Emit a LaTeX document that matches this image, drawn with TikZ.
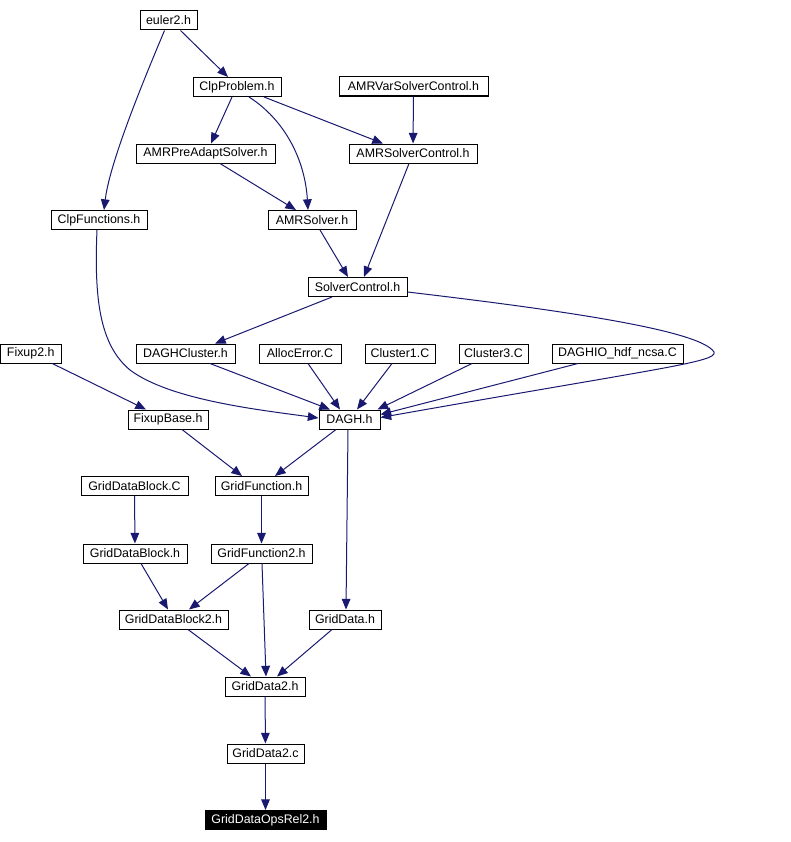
\documentclass[tikz,border=0pt]{standalone}
\usepackage{fontspec}
\setmainfont{Liberation Sans}
\usetikzlibrary{arrows.meta,calc}
\definecolor{DGEdge}{HTML}{191970}
\definecolor{DGBox}{HTML}{000000}
\tikzset{
  file/.style={draw=DGBox,line width=0.75pt,inner sep=0pt,minimum height=14.25pt,font=\fontsize{9.3}{10}\selectfont},
  focus/.style={file,fill=black,text=white},
  dep/.style={DGEdge,line width=0.75pt,-{Triangle[length=8pt,width=6.5pt]}}
}
\begin{document}
\begin{tikzpicture}[x=0.75pt,y=-0.75pt]
\path[use as bounding box] (0,0) rectangle (790,842);
% headers on top
\node[file,minimum width=42.75pt] (euler2) at (168.5,20.5) {euler2.h};
\node[file,minimum width=66pt] (ClpProblem) at (237,87) {ClpProblem.h};
\node[file,minimum width=111.75pt] (AMRVarSolverControl) at (413.5,86.5) {AMRVarSolverControl.h};
\node[file,minimum width=104.25pt] (AMRPreAdaptSolver) at (205.5,153.5) {AMRPreAdaptSolver.h};
\node[file,minimum width=96pt] (AMRSolverControl) at (413,153.5) {AMRSolverControl.h};
\node[file,minimum width=72pt] (ClpFunctions) at (99,220) {ClpFunctions.h};
\node[file,minimum width=66pt] (AMRSolver) at (312,220) {AMRSolver.h};
\node[file,minimum width=74.25pt] (SolverControl) at (357.5,287) {SolverControl.h};
% row of sources above DAGH.h
\node[file,minimum width=45.75pt] (Fixup2) at (30.75,353.5) {Fixup2.h};
\node[file,minimum width=74.25pt] (DAGHCluster) at (185.5,353.5) {DAGHCluster.h};
\node[file,minimum width=61.5pt] (AllocError) at (300,353.5) {AllocError.C};
\node[file,minimum width=52.5pt] (Cluster1) at (400,353.5) {Cluster1.C};
\node[file,minimum width=51.75pt] (Cluster3) at (493.5,353.5) {Cluster3.C};
\node[file,minimum width=98.25pt] (DAGHIO) at (617.5,353.5) {DAGHIO\_hdf\_ncsa.C};
\node[file,minimum width=60pt] (FixupBase) at (168,419.5) {FixupBase.h};
\node[file,minimum width=45.75pt] (DAGH) at (349.5,419.5) {DAGH.h};
% grid data part
\node[file,minimum width=80.25pt] (GridDataBlockC) at (134.5,486) {GridDataBlock.C};
\node[file,minimum width=69.75pt] (GridFunction) at (261.5,486) {GridFunction.h};
\node[file,minimum width=78pt] (GridDataBlock) at (135,553.5) {GridDataBlock.h};
\node[file,minimum width=75.75pt] (GridFunction2) at (261.5,553.5) {GridFunction2.h};
\node[file,minimum width=81.75pt] (GridDataBlock2) at (173.5,619.5) {GridDataBlock2.h};
\node[file,minimum width=54pt] (GridData) at (345,619.5) {GridData.h};
\node[file,minimum width=60pt] (GridData2h) at (265,686.5) {GridData2.h};
\node[file,minimum width=57.75pt] (GridData2c) at (265.5,753.5) {GridData2.c};
\node[focus,minimum width=90.75pt] (GridDataOpsRel2) at (265.5,820) {GridDataOpsRel2.h};
% include edges
\draw[dep] ($(euler2.south)+(12,0)$) -- ($(ClpProblem.north)+(-9,0)$);
\draw[dep] ($(euler2.south)+(-4,0)$) .. controls (148,70) and (110,160) .. ($(ClpFunctions.north)+(5,0)$);
\draw[dep] ($(ClpProblem.south)+(-5,0)$) -- ($(AMRPreAdaptSolver.north)+(5.5,0)$);
\draw[dep] ($(ClpProblem.south)+(12,0)$) .. controls (285,120) and (305,160) .. ($(AMRSolver.north)+(-4,0)$);
\draw[dep] ($(ClpProblem.south)+(27,0)$) -- ($(AMRSolverControl.north)+(-30,0)$);
\draw[dep] (AMRVarSolverControl) -- (AMRSolverControl);
\draw[dep] ($(AMRPreAdaptSolver.south)+(14.5,0)$) -- ($(AMRSolver.north)+(-16,0)$);
\draw[dep] ($(AMRSolver.south)+(8,0)$) -- ($(SolverControl.north)+(-9.5,0)$);
\draw[dep] ($(AMRSolverControl.south)+(-4,0)$) -- ($(SolverControl.north)+(6.5,0)$);
\draw[dep] ($(SolverControl.south)+(-25.5,0)$) -- ($(DAGHCluster.north)+(29.5,0)$);
\draw[dep] ($(SolverControl.east)+(0,5)$) .. controls (560,310) and (700,330) .. (714,352)
  .. controls (718,362) and (660,368) .. ($(DAGH.east)+(0,-2)$);
\draw[dep] ($(ClpFunctions.south)+(-2,0)$) .. controls (94,300) and (100,345) .. (130,370)
  .. controls (170,400) and (260,410) .. ($(DAGH.west)+(0,-1.5)$);
\draw[dep] ($(DAGHCluster.south)+(24.5,0)$) -- ($(DAGH.north)+(-19.5,0)$);
\draw[dep] ($(AllocError.south)+(8,0)$) -- ($(DAGH.north)+(-9.5,0)$);
\draw[dep] ($(Cluster1.south)+(-8,0)$) -- ($(DAGH.north)+(7.5,0)$);
\draw[dep] ($(Cluster3.south)+(-21.5,0)$) -- ($(DAGH.north east)+(-3,0)$);
\draw[dep] ($(DAGHIO.south)+(-39.5,0)$) -- ($(DAGH.east)+(0,-5)$);
\draw[dep] ($(Fixup2.south)+(21.5,0)$) -- ($(FixupBase.north)+(-22,0)$);
\draw[dep] ($(FixupBase.south)+(14,0)$) -- ($(GridFunction.north)+(-19.5,0)$);
\draw[dep] ($(DAGH.south)+(-13.5,0)$) -- ($(GridFunction.north)+(13.5,0)$);
\draw[dep] ($(DAGH.south)+(-1.5,0)$) -- ($(GridData.north)+(1,0)$);
\draw[dep] (GridDataBlockC) -- (GridDataBlock);
\draw[dep] (GridFunction) -- (GridFunction2);
\draw[dep] ($(GridDataBlock.south)+(6,0)$) -- ($(GridDataBlock2.north)+(-5.5,0)$);
\draw[dep] ($(GridFunction2.south)+(-12.5,0)$) -- ($(GridDataBlock2.north)+(15.5,0)$);
\draw[dep] ($(GridFunction2.south)+(0.5,0)$) -- ($(GridData2h.north)+(1,0)$);
\draw[dep] ($(GridDataBlock2.south)+(14.5,0)$) -- ($(GridData2h.north)+(-14,0)$);
\draw[dep] ($(GridData.south)+(-13,0)$) -- ($(GridData2h.north)+(12,0)$);
\draw[dep] (GridData2h) -- (GridData2c);
\draw[dep] (GridData2c) -- (GridDataOpsRel2);
\end{tikzpicture}
\end{document}
